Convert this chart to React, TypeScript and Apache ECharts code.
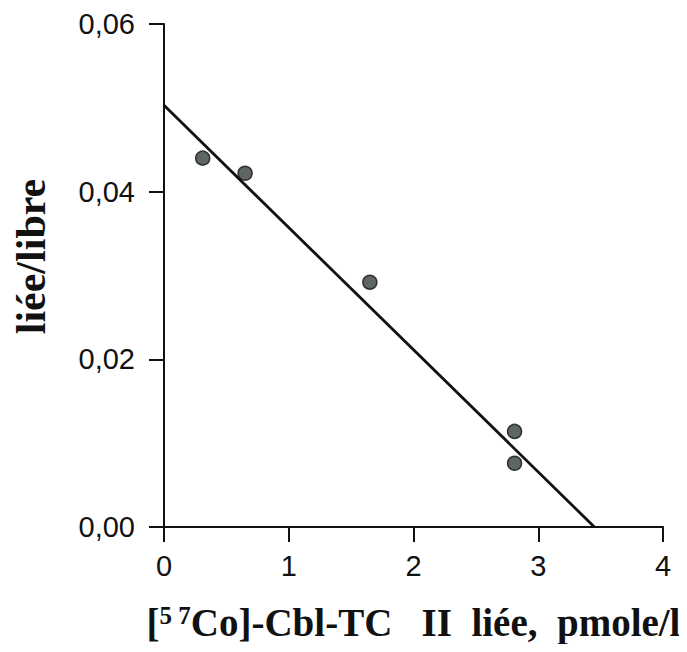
import React, { useEffect, useRef } from "react";
import * as echarts from "echarts";

const xTicks = [0, 1, 2, 3, 4];
const yTicks = ["0,00", "0,02", "0,04", "0,06"];
const pointsX = [0.31, 0.65, 1.65, 2.81, 2.81];
const pointsY = [0.0440, 0.0422, 0.0292, 0.0114, 0.0076];
const fitLineX = [0, 3.45];
const fitLineY = [0.0503, 0];

const S = "\u00a0";

export default function App() {
  const ref = useRef<HTMLDivElement>(null);
  useEffect(() => {
    if (!ref.current) return;
    const chart = echarts.init(ref.current, undefined, { renderer: "svg" });
    const axisLine = { lineStyle: { color: "#111", width: 2 } };
    chart.setOption({
      animation: false,
      backgroundColor: "#fff",
      grid: { left: 164, right: 24, top: 24, bottom: 125 },
      xAxis: {
        type: "value",
        min: 0,
        max: 4,
        interval: 1,
        splitLine: { show: false },
        axisLine: { ...axisLine, onZero: false },
        axisTick: { show: true, inside: false, length: 15, lineStyle: { color: "#111", width: 2 } },
        axisLabel: {
          margin: 24,
          fontFamily: "Liberation Sans",
          fontSize: 29,
          color: "#111",
          formatter: (v: number) => String(xTicks[Math.round(v)] ?? v),
        },
        name: `[{sup|5${S}7}Co]-Cbl-TC${S}${S}${S}II${S}${S}liée,${S}${S}pmole/l`,
        nameLocation: "middle",
        nameGap: 76,
        nameTextStyle: {
          fontFamily: "Liberation Serif",
          fontWeight: "bold",
          fontSize: 39,
          color: "#111",
          rich: {
            sup: {
              fontFamily: "Liberation Serif",
              fontWeight: "bold",
              fontSize: 25,
              color: "#111",
              verticalAlign: "top",
              padding: [0, 0, 12, 0],
            },
          },
        },
      },
      yAxis: {
        type: "value",
        min: 0,
        max: 0.06,
        interval: 0.02,
        splitLine: { show: false },
        axisLine: { ...axisLine, onZero: false },
        axisTick: { show: true, inside: false, length: 15, lineStyle: { color: "#111", width: 2 } },
        axisLabel: {
          margin: 29,
          fontFamily: "Liberation Sans",
          fontSize: 29,
          color: "#111",
          formatter: (v: number) => yTicks[Math.round(v / 0.02)] ?? String(v),
        },
        name: "liée/libre",
        nameLocation: "middle",
        nameGap: 112,
        nameTextStyle: {
          fontFamily: "Liberation Serif",
          fontWeight: "bold",
          fontSize: 42,
          color: "#111",
          padding: [0, 0, 0, 38],
        },
      },
      series: [
        {
          type: "line",
          data: fitLineX.map((x, i) => [x, fitLineY[i]]),
          symbol: "none",
          lineStyle: { color: "#111", width: 2.8 },
          z: 2,
        },
        {
          type: "scatter",
          data: pointsX.map((x, i) => [x, pointsY[i]]),
          symbolSize: 14,
          itemStyle: { color: "#35403c", borderColor: "#111", borderWidth: 1.5 },
          z: 3,
        },
      ],
    });
    return () => chart.dispose();
  }, []);
  return <div ref={ref} style={{ width: 687, height: 652, margin: -8 }} />;
}
